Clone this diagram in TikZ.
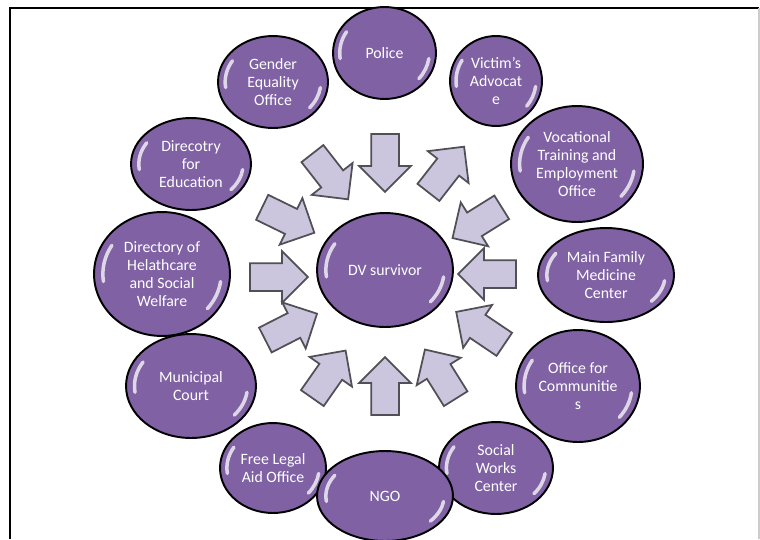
\documentclass[tikz,border=0pt]{standalone}
\usepackage{fontspec}
\setmainfont{Carlito}
\usetikzlibrary{calc}
\usetikzlibrary{shapes.geometric,shapes.arrows}
\usepackage{xcolor}

\definecolor{bubblefill}{RGB}{127,97,164}
\definecolor{arrowfill}{RGB}{203,197,222}
\definecolor{arrowline}{RGB}{80,80,86}

\tikzset{
  gloss/.style={path picture={
    \draw[white, opacity=.75, line width=2pt, line cap=round]
      let \p1=(path picture bounding box.north east),
          \p2=(path picture bounding box.center),
          \n1={0.87*(\x1-\x2)}, \n2={0.87*(\y1-\y2)} in
      ({\x2+\n1*cos(148)}, {\y2+\n2*sin(148)}) arc[start angle=148, end angle=188, x radius=\n1, y radius=\n2]
      ({\x2+\n1*cos(-40)}, {\y2+\n2*sin(-40)}) arc[start angle=-40, end angle=-8, x radius=\n1, y radius=\n2];
  }},
  bubble/.style 2 args={ellipse, draw=black, line width=1.1pt, fill=bubblefill,
    minimum width=#1*0.04cm, minimum height=#2*0.04cm, inner sep=0pt,
    text=white, align=center, font=\fontsize{9}{10.2}\selectfont, gloss},
  blockarrow/.style={single arrow, draw=arrowline, line width=1pt, fill=arrowfill,
    minimum height=1.16cm, inner xsep=0pt, inner ysep=0.26cm,
    single arrow head extend=0.24cm}
}

\begin{document}
\begin{tikzpicture}[x=0.02cm, y=0.02cm]
    \useasboundingbox (0,0) rectangle (760,539);
    % frame
    \draw[line width=1.4pt] (10,0) -- (10,531) -- (759,531);
    \draw[black!20, line width=0.6pt] (759,531) -- (759,0);

    % agencies
    \node[bubble={51.5}{46}] (police) at (384.5,486) {Police};
    \node[bubble={55}{46}] (gender) at (273,457) {Gender\\Equality\\Office};
    \node[bubble={46}{45}] (victim) at (496,458) {Victim's\\Advocat\\e};
    \node[bubble={66}{58}] (vocational) at (577,375) {Vocational\\Training and\\Employment\\Office};
    \node[bubble={68}{47}] (family) at (606,264) {Main Family\\Medicine\\Center};
    \node[bubble={62}{56}] (communities) at (578,153) {Office for\\Communitie\\s};
    \node[bubble={57}{46}] (social) at (496,71) {Social\\Works\\Center};
    \node[bubble={53}{45}] (legal) at (273,71) {Free Legal\\Aid Office};
    \node[bubble={68}{45}] (ngo) at (385,43) {NGO};
    \node[bubble={65}{52}] (court) at (191,153) {Municipal\\Court};
    \node[bubble={68}{62}] (health) at (162,265) {Directory of\\Helathcare\\and Social\\Welfare};
    \node[bubble={60}{46}] (education) at (191,375) {Direcotry\\for\\Education};

    % survivor
    \node[bubble={68}{57}] (survivor) at (385,269) {DV survivor};

    % block arrows
    \node[blockarrow, rotate=-90] (arPolice) at (385,383) {};
    \node[blockarrow, rotate=-52] (arGender) at (326,368) {};
    \node[blockarrow, rotate=52] (arVictim) at (442,364) {};
    \node[blockarrow, rotate=212] (arVocational) at (483,320) {};
    \node[blockarrow, rotate=180] (arFamily) at (494,265) {};
    \node[blockarrow, rotate=146] (arCommunities) at (486,207) {};
    \node[blockarrow, rotate=122] (arSocial) at (444,159) {};
    \node[blockarrow, rotate=90] (arNgo) at (385,146) {};
    \node[blockarrow, rotate=55] (arLegal) at (325,159) {};
    \node[blockarrow, rotate=27] (arCourt) at (285,209) {};
    \node[blockarrow, rotate=0] (arHealth) at (272,262) {};
    \node[blockarrow, rotate=-26] (arEducation) at (282,322) {};
\end{tikzpicture}
\end{document}
